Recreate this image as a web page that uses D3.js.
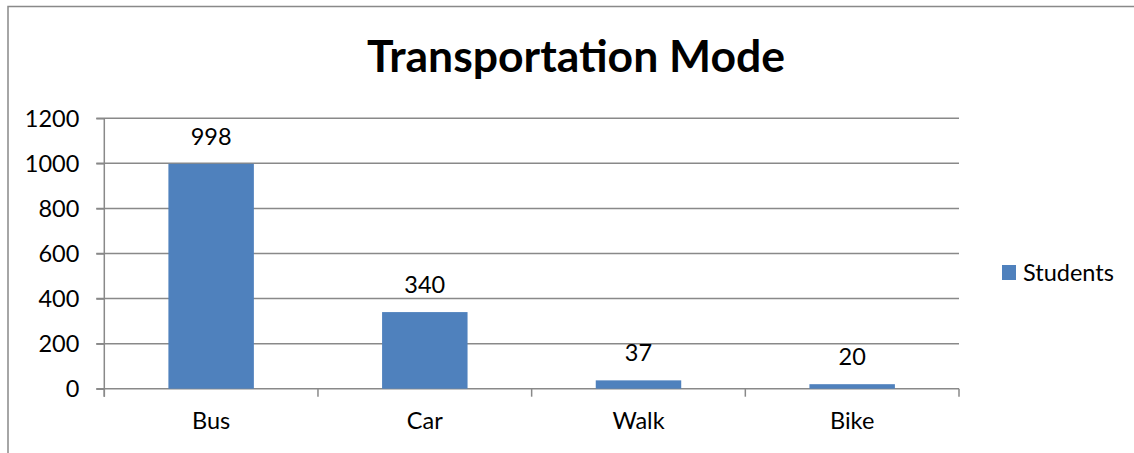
<!DOCTYPE html>
<html>
<head>
<meta charset="utf-8">
<script src="https://cdn.jsdelivr.net/npm/d3@7"></script>
<style>
  html, body { margin: 0; padding: 0; background: #fff; }
  svg { display: block; }
  text { font-family: Lato, "Open Sans", sans-serif; fill: #000; }
</style>
</head>
<body>
<svg id="chart" width="1134" height="453"></svg>
<script>
const title = "Transportation Mode";
const categories = ["Bus", "Car", "Walk", "Bike"];
const students = [998, 340, 37, 20];
const seriesName = "Students";
const yTicks = [0, 200, 400, 600, 800, 1000, 1200];

(function () {
const svg = d3.select("#chart");
const W = 1134, H = 453;
const pL = 104.3, pR = 959, pT = 118.3, pB = 388.7;
const gray = "#898989";
const barColor = "#4F81BD";
const fs = 23.5;

// outer chart border (cropped: only top and left visible)
svg.append("path")
  .attr("d", `M8,${H} L8,6.5 L${W},6.5`)
  .attr("fill", "none").attr("stroke", gray).attr("stroke-width", 1.5);

const y = d3.scaleLinear().domain([0, 1200]).range([pB, pT]);
const x = d3.scaleBand().domain(categories).range([pL, pR])
  .paddingInner(0.6).paddingOuter(0.3);

// gridlines
svg.append("g").selectAll("line").data(yTicks).join("line")
  .attr("x1", pL - 8).attr("x2", pR)
  .attr("y1", d => y(d)).attr("y2", d => y(d))
  .attr("stroke", gray).attr("stroke-width", 1.5);

// y axis
const yAxis = svg.append("g").attr("transform", `translate(${pL},0)`)
  .call(d3.axisLeft(y).tickValues(yTicks).tickSize(8).tickPadding(17).tickFormat(d3.format("d")));
yAxis.select(".domain").remove();
yAxis.append("line").attr("x1", 0).attr("x2", 0).attr("y1", pT).attr("y2", pB + 8)
  .attr("stroke", gray).attr("stroke-width", 1.5);
yAxis.selectAll(".tick line").attr("stroke", gray).attr("stroke-width", 1.5);
yAxis.selectAll(".tick text").attr("font-size", fs).attr("font-family", "Lato").attr("fill", "#000")
  .attr("dy", "0.34em");

// x axis labels
const xAxis = svg.append("g").attr("transform", `translate(0,${pB})`)
  .call(d3.axisBottom(x).tickSize(0).tickPadding(24));
xAxis.select(".domain").remove();
xAxis.selectAll(".tick text").attr("font-size", fs).attr("font-family", "Lato").attr("fill", "#000");

// x ticks at category boundaries
const half = (x.step() - x.bandwidth()) / 2;
const edges = categories.map(c => x(c) - half).concat([x(categories[categories.length - 1]) + x.bandwidth() + half]);
svg.append("g").selectAll("line").data(edges).join("line")
  .attr("x1", d => d).attr("x2", d => d)
  .attr("y1", pB).attr("y2", pB + 8)
  .attr("stroke", gray).attr("stroke-width", 1.5);

// bars
const data = categories.map((c, i) => ({ c, v: students[i] }));
svg.append("g").selectAll("rect").data(data).join("rect")
  .attr("x", d => x(d.c)).attr("width", x.bandwidth())
  .attr("y", d => y(d.v)).attr("height", d => pB - y(d.v))
  .attr("fill", barColor);

// data labels
svg.append("g").selectAll("text").data(data).join("text")
  .attr("x", d => x(d.c) + x.bandwidth() / 2)
  .attr("y", d => y(d.v) - 19)
  .attr("text-anchor", "middle").attr("font-size", fs)
  .text(d => d.v);

// title
svg.append("text").attr("x", 576).attr("y", 72)
  .attr("text-anchor", "middle").attr("font-size", 44.5).attr("font-weight", "bold")
  .text(title);

// legend
const lg = svg.append("g").attr("transform", "translate(1002,265)");
lg.append("rect").attr("width", 14).attr("height", 15).attr("fill", barColor);
lg.append("text").attr("x", 21).attr("y", 15.5).attr("font-size", fs).text(seriesName);
})();
</script>
</body>
</html>
